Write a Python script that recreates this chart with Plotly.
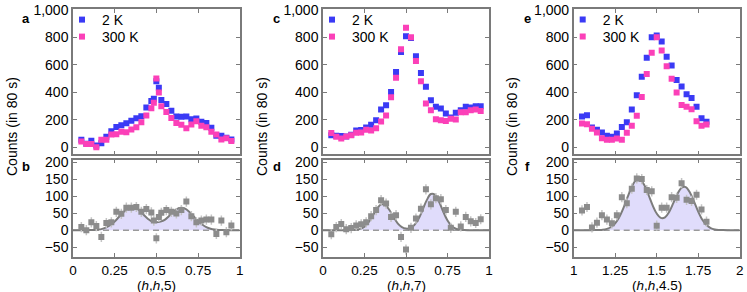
import plotly.graph_objects as go

# ---------------- data ----------------
X_A = [0.05, 0.08, 0.11, 0.14, 0.17, 0.20, 0.23, 0.26, 0.29, 0.32, 0.35, 0.38, 0.41, 0.44, 0.47, 0.485,
       0.50, 0.515, 0.53, 0.56, 0.59, 0.62, 0.65, 0.68, 0.71, 0.74, 0.77, 0.80, 0.83, 0.86, 0.89, 0.92, 0.95]
A_2K = [55, 26, 48, 14, 31, 77, 118, 149, 161, 176, 193, 212, 227, 289, 337, 354,
        480, 434, 345, 316, 267, 224, 222, 224, 205, 210, 186, 178, 142, 84, 84, 70, 58]
A_300K = [43, 24, 24, 2, 55, 55, 94, 96, 113, 111, 130, 147, 183, 231, 284, 325,
          501, 398, 299, 258, 214, 178, 164, 140, 166, 190, 157, 147, 113, 94, 58, 67, 46]
B_DIFF = [9, 0, 23, 12, -20, 21, 23, 54, 48, 66, 66, 68, 54, 62, 52, 28,
          -24, 39, 51, 59, 54, 49, 59, 84, 41, 23, 28, 31, 31, -11, 28, -6, 14]

X_C = [0.05, 0.08, 0.11, 0.14, 0.17, 0.20, 0.23, 0.26, 0.29, 0.32, 0.35, 0.38, 0.41, 0.44, 0.47, 0.50,
       0.53, 0.56, 0.59, 0.62, 0.65, 0.68, 0.71, 0.74, 0.77, 0.80, 0.83, 0.86, 0.89, 0.92, 0.95]
C_2K = [89, 85, 82, 80, 92, 123, 126, 145, 164, 198, 275, 307, 403, 548, 693, 807,
        795, 662, 541, 440, 343, 295, 283, 246, 217, 251, 270, 295, 290, 299, 299]
C_300K = [104, 77, 65, 80, 89, 106, 109, 128, 123, 140, 188, 232, 365, 505, 712, 869,
          799, 628, 481, 319, 270, 205, 198, 191, 208, 203, 256, 256, 270, 275, 265]
D_DIFF = [-12, 9, 18, 3, 6, 14, 17, 23, 41, 59, 88, 78, 39, 44, -20, -57,
          7, 34, 63, 120, 76, 94, 91, 59, 7, 54, 11, 39, 26, 21, 32]

X_E = [1.05, 1.08, 1.11, 1.14, 1.17, 1.20, 1.23, 1.26, 1.29, 1.32, 1.35, 1.38, 1.41, 1.44, 1.47, 1.50,
       1.53, 1.56, 1.59, 1.62, 1.65, 1.68, 1.71, 1.74, 1.77, 1.80]
E_2K = [224, 234, 145, 128, 108, 84, 77, 101, 149, 183, 275, 378, 513, 651, 800, 812,
        769, 658, 595, 489, 443, 386, 359, 296, 212, 186]
E_300K = [174, 169, 135, 108, 67, 55, 55, 65, 55, 106, 157, 229, 366, 533, 687, 800,
          704, 590, 499, 398, 308, 296, 277, 190, 157, 166]
F_DIFF = [58, 68, 8, 22, 44, 31, 20, 44, 97, 79, 122, 152, 150, 118, 114, 13,
          66, 66, 97, 95, 138, 89, 86, 104, 61, 25]

FIT_X_01 = [0.000, 0.025, 0.050, 0.075, 0.100, 0.125, 0.150, 0.175, 0.200, 0.225, 0.250, 0.275, 0.300, 0.325,
            0.350, 0.375, 0.400, 0.425, 0.450, 0.475, 0.500, 0.525, 0.550, 0.575, 0.600, 0.625, 0.650, 0.675,
            0.700, 0.725, 0.750, 0.775, 0.800, 0.825, 0.850, 0.875, 0.900, 0.925, 0.950, 0.975, 1.000]
FIT_B = [0, 0, 0, 0, 0.2, 0.6, 1.6, 3.8, 8, 15, 25.5, 38.5, 52, 62.8,
         68, 65.7, 57.1, 44.7, 33, 25, 23, 25, 30, 41, 53.2, 62.4, 66, 62.4,
         52.9, 40, 27.1, 16.5, 8.9, 4.3, 1.9, 0.7, 0.25, 0.1, 0, 0, 0]
FIT_D = [0, 0, 0, 0, 0, 0, 0.1, 0.4, 1.1, 3.8, 10.4, 23.4, 42.5, 62.9,
         75.7, 74.2, 59.1, 38.3, 20.2, 9.1, 4.6, 6.2, 14.8, 32.7, 59.6, 88.2, 106.3, 104,
         82.9, 53.7, 28.3, 12.1, 4.2, 1.2, 0.3, 0, 0, 0, 0, 0, 0]
FIT_X_12 = [1.000, 1.025, 1.050, 1.075, 1.100, 1.125, 1.150, 1.175, 1.200, 1.225, 1.250, 1.275, 1.300, 1.325,
            1.350, 1.375, 1.400, 1.425, 1.450, 1.475, 1.500, 1.525, 1.550, 1.575, 1.600, 1.625, 1.650, 1.675,
            1.700, 1.725, 1.750, 1.775, 1.800, 1.825, 1.850, 1.875, 1.900, 1.925, 1.950, 1.975, 2.000]
FIT_F = [0, 0, 0, 0, 0, 0.1, 0.4, 1.3, 3.8, 9.3, 20.3, 38.9, 65.6, 97.5,
         127.4, 146.6, 148.5, 132.5, 104.5, 73.6, 48.8, 36, 37.8, 53.7, 79.3, 106.4, 124.6, 126.5,
         110.7, 83.6, 54.4, 30.6, 14.9, 6.2, 2.2, 0.7, 0.2, 0, 0, 0, 0]

ERR_DIFF = 15
SERIES_NAMES = ["2 K", "300 K"]
LETTERS_TOP = ["a", "c", "e"]
LETTERS_BOT = ["b", "d", "f"]
X_TITLES = ["(<i>h</i>,<i>h</i>,5)", "(<i>h</i>,<i>h</i>,7)", "(<i>h</i>,<i>h</i>,4.5)"]
Y_TITLE = "Counts (in 80 s)"
X_RANGES = [[0, 1], [0, 1], [1, 2]]
X_TICKS = [[0, 0.25, 0.5, 0.75, 1], [0, 0.25, 0.5, 0.75, 1], [1, 1.25, 1.5, 1.75, 2]]
TOP_TICKS = [0, 200, 400, 600, 800, 1000]
BOT_TICKS = [-50, 0, 50, 100, 150, 200]

panels = [
    (X_A, A_2K, A_300K, B_DIFF, FIT_X_01, FIT_B),
    (X_C, C_2K, C_300K, D_DIFF, FIT_X_01, FIT_D),
    (X_E, E_2K, E_300K, F_DIFF, FIT_X_12, FIT_F),
]

# ---------------- styling ----------------
W, H = 747, 292
BLUE = "#3a3af5"
PINK = "#fb40b8"
GRAY_PT = "#8c8c8c"
GRAY_ERR = "#c4c4c4"
GRAY_LINE = "#7c7c7c"
FRAME = "#7a7a7a"
FILL = "rgb(224,220,251)"
FONT = "Liberation Sans, Arial, sans-serif"

col_px = [(73, 239.7), (323, 489), (573.7, 739.7)]
top_px = (9, 154.3)
bot_px = (159.7, 256.7)
legend_text_y = [20, 37]


def xdom(c):
    return [col_px[c][0] / W, col_px[c][1] / W]


def ydom(p):
    return [1 - p[1] / H, 1 - p[0] / H]


fig = go.Figure()
layout = dict(
    width=W, height=H,
    margin=dict(l=0, r=0, t=0, b=0, pad=0, autoexpand=False),
    paper_bgcolor="white", plot_bgcolor="white",
    font=dict(family=FONT, size=14, color="black"),
    showlegend=True,
)
annotations = []

axis_common = dict(showline=True, linecolor=FRAME, linewidth=1.5, mirror="ticks",
                   ticks="inside", ticklen=4, tickcolor=FRAME, tickwidth=1,
                   showgrid=False, zeroline=False, automargin=False)

for c, (xs, s2, s300, diff, fx, fy) in enumerate(panels):
    top_i = 2 * c + 1
    bot_i = 2 * c + 2
    xt = "x" if top_i == 1 else f"x{top_i}"
    yt = "y" if top_i == 1 else f"y{top_i}"
    xb = f"x{bot_i}"
    yb = f"y{bot_i}"

    # top panel
    for s, (name, vals, col) in enumerate(zip(SERIES_NAMES, [s2, s300], [BLUE, PINK])):
        li = 2 * c + s + 1
        leg = "legend" if li == 1 else f"legend{li}"
        fig.add_trace(go.Scatter(x=xs, y=vals, mode="markers", name=name,
                                 marker=dict(symbol="square", size=6, color=col),
                                 xaxis=xt, yaxis=yt, legend=leg, showlegend=True))
        layout[leg] = dict(x=(col_px[c][0] - 11) / W, y=1 - (legend_text_y[s] - 16) / H,
                           xanchor="left", yanchor="top",
                           bgcolor="rgba(0,0,0,0)", font=dict(size=14), itemwidth=30)

    # bottom panel: fill, dashed zero, fit curve, points
    fig.add_trace(go.Scatter(x=fx, y=fy, mode="lines", line=dict(width=0, color=FILL),
                             fill="tozeroy", fillcolor=FILL, xaxis=xb, yaxis=yb,
                             showlegend=False, hoverinfo="skip"))
    fig.add_trace(go.Scatter(x=X_RANGES[c], y=[0, 0], mode="lines",
                             line=dict(color="#9a9a9a", width=1.5, dash="6px,4px"),
                             xaxis=xb, yaxis=yb, showlegend=False, hoverinfo="skip"))
    fig.add_trace(go.Scatter(x=fx, y=fy, mode="lines", line=dict(color=GRAY_LINE, width=2, shape="spline"),
                             xaxis=xb, yaxis=yb, showlegend=False))
    fig.add_trace(go.Scatter(x=xs, y=diff, mode="markers",
                             marker=dict(symbol="square", size=6, color=GRAY_PT),
                             error_y=dict(type="constant", value=ERR_DIFF, color=GRAY_ERR, thickness=1.5, width=0),
                             xaxis=xb, yaxis=yb, showlegend=False))

    kx_t = "xaxis" if top_i == 1 else f"xaxis{top_i}"
    ky_t = "yaxis" if top_i == 1 else f"yaxis{top_i}"
    layout[kx_t] = dict(axis_common, domain=xdom(c), range=X_RANGES[c], tickvals=X_TICKS[c],
                        showticklabels=False, anchor=yt)
    layout[ky_t] = dict(axis_common, domain=ydom(top_px), range=[-50, 1005], tickvals=TOP_TICKS,
                        tickformat=",d", anchor=xt)
    layout[f"xaxis{bot_i}"] = dict(axis_common, domain=xdom(c), range=X_RANGES[c], tickvals=X_TICKS[c],
                                   anchor=yb, tickfont=dict(size=13.5))
    layout[f"yaxis{bot_i}"] = dict(axis_common, domain=ydom(bot_px), range=[-78, 207], tickvals=BOT_TICKS,
                                   anchor=xb)

    x_off = c * 250
    ann = dict(xref="paper", yref="paper", showarrow=False, xanchor="center", yanchor="middle")
    annotations.append(dict(ann, text=Y_TITLE, x=(12 + x_off) / W, y=1 - 127 / H,
                            textangle=-90, font=dict(size=14)))
    annotations.append(dict(ann, text=f"<b>{LETTERS_TOP[c]}</b>", x=(col_px[c][0] - 46.5) / W,
                            y=1 - 18 / H, font=dict(size=13)))
    annotations.append(dict(ann, text=f"<b>{LETTERS_BOT[c]}</b>", x=(col_px[c][0] - 46.5) / W,
                            y=1 - 166 / H, font=dict(size=13)))
    annotations.append(dict(ann, text=X_TITLES[c], x=(col_px[c][0] + col_px[c][1]) / 2 / W,
                            y=1 - 285 / H, font=dict(size=13.5)))

layout["annotations"] = annotations
fig.update_layout(**layout)
fig.write_html("out.html", config={"displayModeBar": False},
               post_script="document.body.style.margin='0';document.body.style.overflow='hidden';")
